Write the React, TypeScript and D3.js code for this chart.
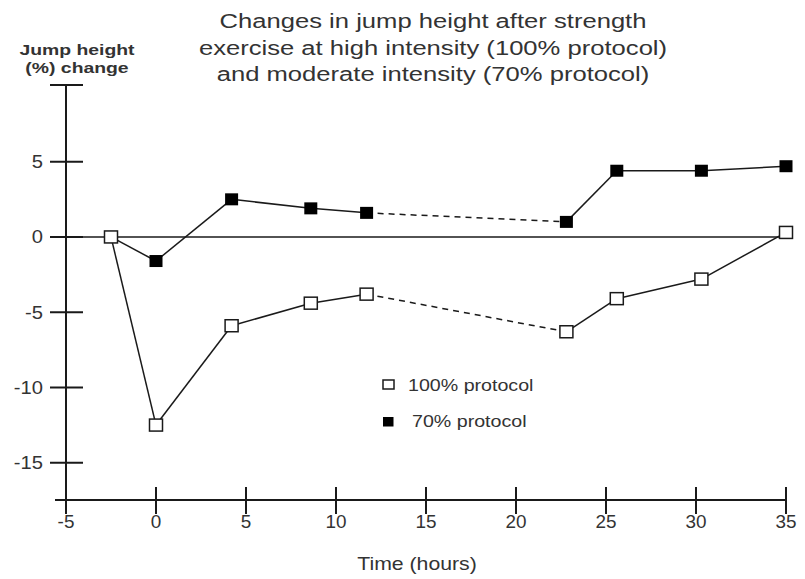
import React from "react";
import * as d3 from "d3";

const times = [-2.5, 0, 4.2, 8.6, 11.7, 22.8, 25.6, 30.3, 35];
const values100 = [0, -12.5, -5.9, -4.4, -3.8, -6.3, -4.1, -2.8, 0.3];
const values70 = [0, -1.6, 2.5, 1.9, 1.6, 1.0, 4.4, 4.4, 4.7];
const xTicks = [-5, 0, 5, 10, 15, 20, 25, 30, 35];
const yTicks = [5, 0, -5, -10, -15];
const titleLines = [
  "Changes in jump height after strength",
  "exercise at high intensity (100% protocol)",
  "and moderate intensity (70% protocol)",
];
const yLabelLines = ["Jump height", "(%) change"];
const xLabel = "Time (hours)";
const legendLabels = ["100% protocol", "70% protocol"];
// index after which the segment is dashed (no measurements overnight)
const dashedSegment = 4;

const W = 805;
const H = 579;
const txt = "#333";

function T(props: {
  x: number;
  y: number;
  sx?: number;
  size: number;
  anchor?: "start" | "middle" | "end";
  bold?: boolean;
  dy?: string;
  children: React.ReactNode;
}) {
  const { x, y, sx = 1.2, size, anchor = "start", bold, dy, children } = props;
  return (
    <text
      transform={`translate(${x},${y}) scale(${sx},1)`}
      textAnchor={anchor}
      fontSize={size}
      fontWeight={bold ? "bold" : "normal"}
      fill={txt}
      dy={dy}
    >
      {children}
    </text>
  );
}

export default function App() {
  const x = d3.scaleLinear().domain([-5, 35]).range([66, 786]);
  const y = d3.scaleLinear().domain([-15, 5]).range([462.7, 161.7]);
  const axisX = x(-5);
  const axisY = 500;
  const ink = "#1a1a1a";
  const font = "'Liberation Sans', Arial, sans-serif";

  const line = d3
    .line<[number, number]>()
    .x((d) => x(d[0]))
    .y((d) => y(d[1]));

  const segments = (vals: number[]) =>
    times.slice(0, -1).map((t, i) => ({
      d: line([
        [t, vals[i]],
        [times[i + 1], vals[i + 1]],
      ]),
      dashed: i === dashedSegment,
    }));

  const seg100 = segments(values100);
  const seg70 = segments(values70);
  const sw = 13;
  const sh = 12;

  return (
    <svg
      width={W}
      height={H}
      style={{ position: "absolute", left: 0, top: 0, background: "#fff" }}
      fontFamily={font}
    >
      <rect width={W} height={H} fill="#fff" />
      {/* title */}
      {titleLines.map((t, i) => (
        <T key={i} x={433} y={28 + i * 26.5} size={21} sx={1.22} anchor="middle">
          {t}
        </T>
      ))}
      {/* y label */}
      {yLabelLines.map((t, i) => (
        <T key={i} x={77} y={55 + i * 18} size={15.5} sx={1.25} anchor="middle" bold>
          {t}
        </T>
      ))}
      {/* y axis */}
      <line x1={axisX} x2={axisX} y1={85} y2={508} stroke={ink} strokeWidth={2} />
      <line x1={50} x2={83} y1={85} y2={85} stroke={ink} strokeWidth={2} />
      {yTicks.map((v) => (
        <g key={v}>
          <line x1={50} x2={83} y1={y(v)} y2={y(v)} stroke={ink} strokeWidth={2} />
          <T x={43} y={y(v) + 6.5} size={18} sx={1.12} anchor="end">
            {v}
          </T>
        </g>
      ))}
      {/* x axis */}
      <line x1={55} x2={x(35) + 1} y1={axisY} y2={axisY} stroke={ink} strokeWidth={2} />
      {xTicks.map((t) => (
        <g key={t}>
          <line x1={x(t)} x2={x(t)} y1={487} y2={514} stroke={ink} strokeWidth={2} />
          <T x={x(t)} y={528} size={18} sx={1.05} anchor="middle">
            {t}
          </T>
        </g>
      ))}
      <T x={417} y={570} size={18} sx={1.18} anchor="middle">
        {xLabel}
      </T>
      {/* zero line */}
      <line x1={52} x2={790} y1={y(0)} y2={y(0)} stroke={ink} strokeWidth={1.6} />
      {/* series lines */}
      {[...seg70, ...seg100].map((s, i) => (
        <path
          key={i}
          d={s.d || ""}
          fill="none"
          stroke={ink}
          strokeWidth={1.5}
          strokeDasharray={s.dashed ? "6 5" : undefined}
        />
      ))}
      {/* 70% markers */}
      {times.slice(1).map((t, i) => (
        <rect
          key={"f" + i}
          x={x(t) - sw / 2}
          y={y(values70[i + 1]) - sh / 2}
          width={sw}
          height={sh}
          fill="#000"
        />
      ))}
      {/* 100% markers */}
      {times.map((t, i) => (
        <rect
          key={"o" + i}
          x={x(t) - sw / 2}
          y={y(values100[i]) - sh / 2}
          width={sw}
          height={sh}
          fill="#fff"
          stroke={ink}
          strokeWidth={1.5}
        />
      ))}
      {/* legend */}
      <rect x={383} y={380} width={11} height={9} fill="#fff" stroke={ink} strokeWidth={1.5} />
      <T x={408} y={390.5} size={16.5} sx={1.19}>
        {legendLabels[0]}
      </T>
      <rect x={383} y={417} width={10.5} height={9.5} fill="#000" />
      <T x={412} y={426.5} size={16.5} sx={1.19}>
        {legendLabels[1]}
      </T>
    </svg>
  );
}
